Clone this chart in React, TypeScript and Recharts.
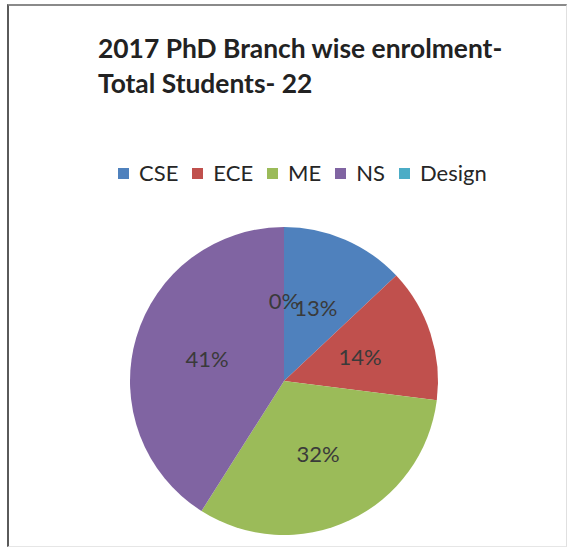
import { PieChart, Pie, Cell } from "recharts";

const branches = ["CSE", "ECE", "ME", "NS", "Design"];
const shares = [13, 14, 32, 41, 0];
const colors = ["#4f81bd", "#c0504d", "#9bbb59", "#8064a2", "#4bacc6"];

const data = branches.map((name, i) => ({ name, value: shares[i] }));

const RAD = Math.PI / 180;
const FONT = "Lato, 'Open Sans', sans-serif";

const renderLabel = (props: any) => {
  const { cx, cy, midAngle, outerRadius, value } = props;
  const r = outerRadius * 0.52;
  const x = cx + r * Math.cos(-midAngle * RAD);
  const y = cy + r * Math.sin(-midAngle * RAD);
  return (
    <text
      x={x}
      y={y}
      fill="#3a3a3a"
      fontSize={22}
      fontFamily={FONT}
      textAnchor="middle"
      dominantBaseline="central"
    >
      {value}%
    </text>
  );
};

export default function App() {
  return (
    <div
      style={{
        position: "absolute",
        left: 0,
        top: 0,
        width: 569,
        height: 549,
        background: "#fff",
        overflow: "hidden",
      }}
    >
      <div
        style={{
          position: "absolute",
          left: 7,
          top: 4,
          width: 557,
          height: 540,
          borderTop: "2px solid #8a8a8a",
          borderLeft: "2px solid #5a5a5a",
          borderRight: "1px solid #e0e0e0",
          borderBottom: "1px solid #e6e6e6",
        }}
      />
      <div
        style={{
          position: "absolute",
          left: 98,
          top: 31,
          fontFamily: FONT,
          fontWeight: 700,
          fontSize: 26.4,
          lineHeight: "35px",
          color: "#222",
          whiteSpace: "nowrap",
        }}
      >
        2017 PhD Branch wise enrolment-
        <br />
        Total Students- 22
      </div>
      <div
        style={{
          position: "absolute",
          left: 118,
          top: 160,
          display: "flex",
          fontFamily: FONT,
          fontSize: 22,
          lineHeight: "26px",
          color: "#262626",
          whiteSpace: "nowrap",
        }}
      >
        {branches.map((b, i) => (
          <div key={b} style={{ display: "flex", alignItems: "center", marginRight: 14 }}>
            <span
              style={{
                display: "inline-block",
                width: 11,
                height: 11,
                background: colors[i],
                marginRight: 10,
              }}
            />
            <span>{b}</span>
          </div>
        ))}
      </div>
      <div style={{ position: "absolute", left: 0, top: 0 }}>
        <PieChart width={569} height={549} margin={{ top: 0, right: 0, bottom: 0, left: 0 }}>
          <Pie
            data={data}
            dataKey="value"
            nameKey="name"
            cx={284}
            cy={381}
            outerRadius={154}
            startAngle={90}
            endAngle={-270}
            stroke="none"
            label={renderLabel}
            labelLine={false}
            isAnimationActive={false}
          >
            {data.map((d, i) => (
              <Cell key={d.name} fill={colors[i]} />
            ))}
          </Pie>
        </PieChart>
      </div>
    </div>
  );
}
